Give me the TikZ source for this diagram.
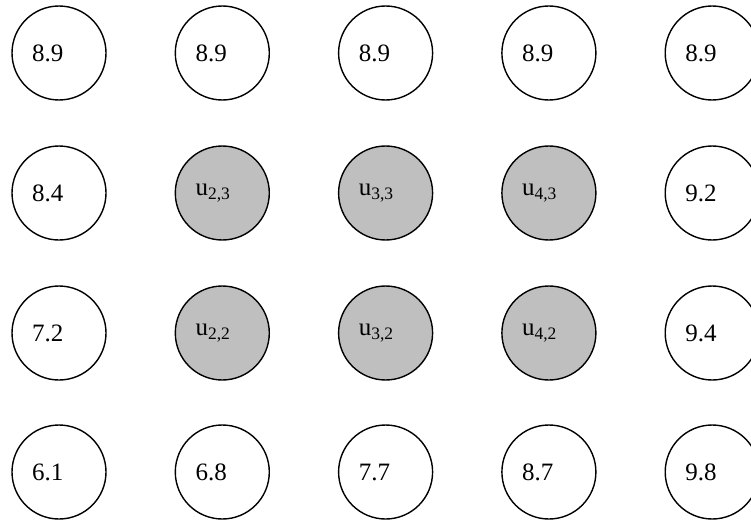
\documentclass[tikz,border=0pt]{standalone}
\usepackage{fontspec}
\setmainfont{Liberation Serif}
\begin{document}
\begin{tikzpicture}[x=1pt,y=-1pt,
  cell/.style={circle,draw=black,line width=1.4pt,minimum size=94pt,inner sep=0pt},
  known/.style={cell,fill=white},
  unknown/.style={cell,fill=gray!50},
  val/.style={anchor=west,inner sep=0pt,font=\fontsize{25}{25}\selectfont}]
\useasboundingbox (0,0) rectangle (751,519);
\def\colA{59}\def\colB{222.3}\def\colC{385.6}\def\colD{548.9}\def\colE{712.2}
\def\rowA{53}\def\rowB{193}\def\rowC{333}\def\rowD{472}
% row 1
\node[known] (c11) at (\colA,\rowA) {};
\node[known] (c21) at (\colB,\rowA) {};
\node[known] (c31) at (\colC,\rowA) {};
\node[known] (c41) at (\colD,\rowA) {};
\node[known] (c51) at (\colE,\rowA) {};
% row 2
\node[known] (c12) at (\colA,\rowB) {};
\node[unknown] (c22) at (\colB,\rowB) {};
\node[unknown] (c32) at (\colC,\rowB) {};
\node[unknown] (c42) at (\colD,\rowB) {};
\node[known] (c52) at (\colE,\rowB) {};
% row 3
\node[known] (c13) at (\colA,\rowC) {};
\node[unknown] (c23) at (\colB,\rowC) {};
\node[unknown] (c33) at (\colC,\rowC) {};
\node[unknown] (c43) at (\colD,\rowC) {};
\node[known] (c53) at (\colE,\rowC) {};
% row 4
\node[known] (c14) at (\colA,\rowD) {};
\node[known] (c24) at (\colB,\rowD) {};
\node[known] (c34) at (\colC,\rowD) {};
\node[known] (c44) at (\colD,\rowD) {};
\node[known] (c54) at (\colE,\rowD) {};
% labels
\foreach \n/\t in {c11/8.9,c21/8.9,c31/8.9,c41/8.9,c51/8.9,
                   c12/8.4,c52/9.2,c13/7.2,c53/9.4,
                   c14/6.1,c24/6.8,c34/7.7,c44/8.7,c54/9.8}
  \node[val] (l\n) at ([xshift=-27pt]\n.center) {\t};
\foreach \n/\t in {c22/{2,3},c32/{3,3},c42/{4,3},c23/{2,2},c33/{3,2},c43/{4,2}}
  \node[val] (l\n) at ([xshift=-27pt]\n.center) {u\textsubscript{\t}};
\end{tikzpicture}
\end{document}
